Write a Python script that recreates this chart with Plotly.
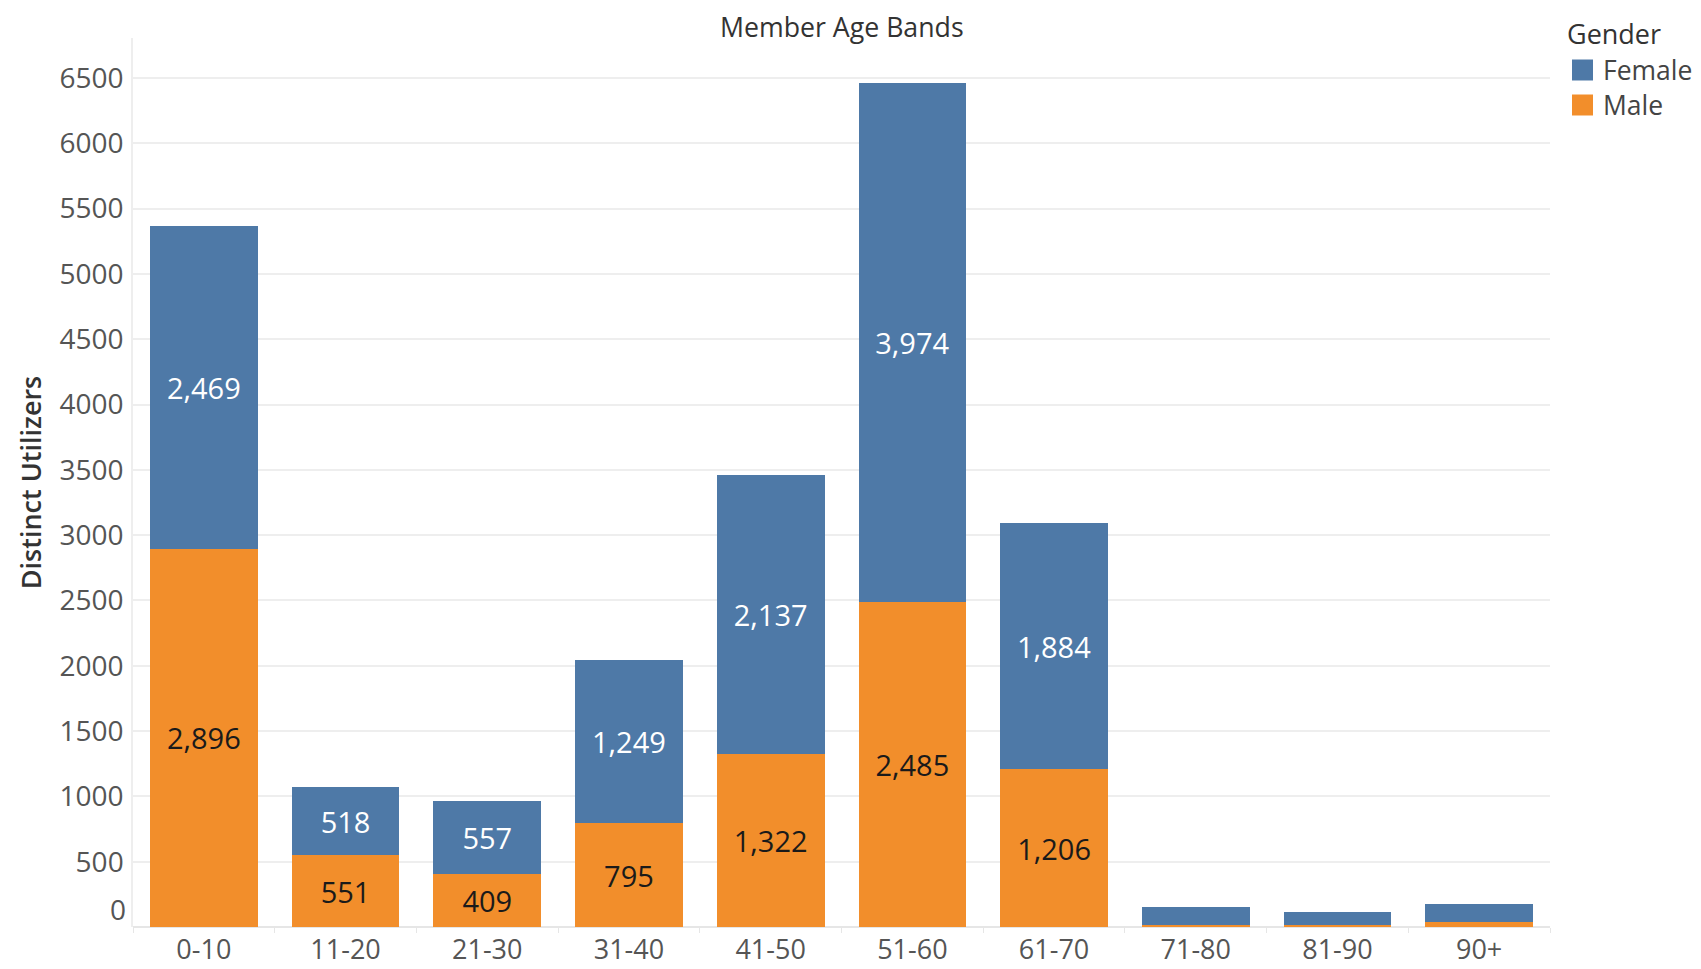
import plotly.graph_objects as go

categories = ["0-10", "11-20", "21-30", "31-40", "41-50", "51-60", "61-70", "71-80", "81-90", "90+"]
male = [2896, 551, 409, 795, 1322, 2485, 1206, 18, 18, 38]
female = [2469, 518, 557, 1249, 2137, 3974, 1884, 135, 97, 138]
y_ticks = [500, 1000, 1500, 2000, 2500, 3000, 3500, 4000, 4500, 5000, 5500, 6000, 6500]
legend_items = ["Female", "Male"]

BLUE = "#4e79a7"
ORANGE = "#f28e2b"
FONT = "Open Sans"
TICK = 28

# the page body has an 8px default margin; shift the figure to compensate
OFF = 8
W, H = 1701 - 2 * OFF, 969 - OFF
ML, MR, MT, MB = 133 - OFF, W - (1550 - OFF), 38 - OFF, H - (927 - OFF)
PW, PH = W - ML - MR, H - MT - MB


def px_x(px):
    # px: page pixel position -> paper fraction
    return (px - OFF - ML) / PW


def px_y(py):
    return (H - MB - (py - OFF)) / PH


def labels(vals):
    return [f"{v:,}" if v >= 300 else "" for v in vals]


fig = go.Figure()
fig.add_trace(go.Bar(
    x=categories, y=male, name="Male", marker=dict(color=ORANGE, line=dict(width=0)),
    text=labels(male), textposition="inside", insidetextanchor="middle",
    textfont=dict(family=FONT, size=29, color="#1a1a1a"), hoverinfo="x+y+name",
))
fig.add_trace(go.Bar(
    x=categories, y=female, name="Female", marker=dict(color=BLUE, line=dict(width=0)),
    text=labels(female), textposition="inside", insidetextanchor="middle",
    textfont=dict(family=FONT, size=29, color="#ffffff"), hoverinfo="x+y+name",
))

# hand-drawn legend (Tableau style, large swatches) so it does not push margins
shapes = []
annotations = [
    dict(text="Gender", xref="paper", yref="paper", x=px_x(1565), y=px_y(34),
         xanchor="left", yanchor="middle", showarrow=False,
         font=dict(family=FONT, size=27, color="#333333")),
]
for i, (name, color) in enumerate(zip(legend_items, [BLUE, ORANGE])):
    cy = 70 + i * 35
    shapes.append(dict(type="rect", xref="paper", yref="paper",
                       x0=px_x(1572), x1=px_x(1593), y0=px_y(cy + 10.5), y1=px_y(cy - 10.5),
                       fillcolor=color, line=dict(width=0), layer="above"))
    annotations.append(dict(text=name, xref="paper", yref="paper", x=px_x(1601), y=px_y(cy),
                            xanchor="left", yanchor="middle", showarrow=False,
                            font=dict(family=FONT, size=26.5, color="#444444")))

annotations += [
    dict(text="Member Age Bands", xref="paper", yref="paper", x=0.5, y=1.0,
         xanchor="center", yanchor="middle", yshift=12, showarrow=False,
         font=dict(family=FONT, size=26.7, color="#333333")),
    dict(text="0", xref="paper", yref="y", x=0, y=0, xanchor="right", yanchor="middle",
         xshift=-5, yshift=18, showarrow=False,
         font=dict(family=FONT, size=TICK, color="#555555")),
]

fig.update_layout(
    width=W, height=H,
    barmode="stack", bargap=0.24, showlegend=False,
    paper_bgcolor="white", plot_bgcolor="white",
    margin=dict(l=ML, r=MR, t=MT, b=MB),
    font=dict(family=FONT, color="#555555", size=TICK),
    shapes=shapes, annotations=annotations,
)
fig.update_xaxes(
    type="category", showgrid=False, showline=False, zeroline=False, automargin=False,
    ticks="outside", tickson="boundaries", ticklen=5, tickcolor="#e6e6e6",
    ticklabelstandoff=4,
    tickfont=dict(size=27, color="#555555"),
)
fig.update_yaxes(
    range=[0, 6806], tickvals=y_ticks, ticktext=[str(v) for v in y_ticks],
    automargin=False,
    showgrid=True, gridcolor="#eeeeee", gridwidth=1.5,
    zeroline=True, zerolinecolor="#e6e6e6", zerolinewidth=1.5,
    showline=True, linecolor="#eeeeee", linewidth=1.5,
    ticks="", ticklabelstandoff=2,
    tickfont=dict(size=TICK, color="#555555"),
    title=dict(text="Distinct Utilizers", standoff=10,
               font=dict(family=FONT, size=27, color="#333333", weight=600)),
)

fig.write_html("out.html")
